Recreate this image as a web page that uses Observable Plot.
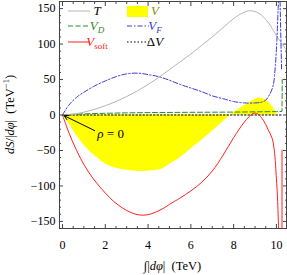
<!DOCTYPE html>
<html><head><meta charset="utf-8">
<script src="https://cdn.jsdelivr.net/npm/d3@7"></script>
<script src="https://cdn.jsdelivr.net/npm/@observablehq/plot@0.6"></script>
<style>body{margin:0;background:#fff}</style>
</head><body><div id="chart"></div>
<script>
// ---- data ----
const tX = [0,0.5,1,1.5,2,2.5,3,3.5,4,4.5,5,5.5,6,6.5,7,7.5,8,8.5,8.8,9.2,9.6,10,10.45];
const tY = [0,1,4,8,13,19,26,34,43,53,64,75,86,98,110,123,136,145,147,143,131,112,92];

const vfX = [0,0.3,0.7,1,1.5,2,2.5,3,3.5,4,4.5,5,5.5,6,6.5,7,7.5,8,8.5,9,9.3,9.5,9.7,9.85,9.95,10.02,10.08,10.12];
const vfY = [0,14,26,32,41,48,54,58,59,57,54,49,43,38,33,27,23,19,17,17,18,21,30,42,70,105,150,175];
const vfBranchX = [10.16,10.19,10.22,10.24];
const vfBranchY = [175,130,90,65];

const vdX = [0,0.5,1,2,3,4,6,8,10,10.26,10.27];
const vdY = [0,1,1.6,2.4,3,3.4,3.8,4.1,4.8,5,50];

const dvX = [0,10.3];
const dvY = [0,0];

const vsX = [0,0.2,0.45,0.84,1.23,1.6,2,2.4,2.8,3.2,3.6,4,4.35,4.75,5,5.5,6,6.5,7,7.5,8,8.5,8.9,9.1,9.4,9.6,9.8,9.9,10,10.05,10.1,10.12];
const vsY = [0,-17,-36,-61,-81,-96,-110,-122,-131,-137.5,-141,-140.5,-137,-131,-126,-117,-107,-95,-79,-57,-32,-10,2,2,-8,-20,-33,-50,-90,-117,-160,-175];
const vsBranchX = [10.26,10.26];
const vsBranchY = [-50,-175];

const vX = [0,0.3,0.6,0.84,1.23,1.62,2,2.4,2.8,3.3,3.7,4.2,4.66,5.2,5.6,6,6.5,7,7.5,7.85,8,8.5,9,9.2,9.5,9.7,9.9,10.05];
const vY = [0,-12,-26,-36,-50,-60,-69,-74,-77,-79,-79.5,-78.5,-76,-66,-58,-48,-36,-23,-10,0,3,13,22,24,21,16,8,0];

const xMajor = [0,2,4,6,8,10];
const yMajor = [-150,-100,-50,0,50,100,150];
const xMinor = d3.range(0,10.5,0.5).filter(v => v % 2 !== 0);
const yMinor = d3.range(-160,161,10).filter(v => v % 50 !== 0);

const note = {label:"ρ = 0", tx:2.25, ty:-26, x1:1.5, y1:-22, x2:0.08, y2:-1};

const zip = (xs, ys) => xs.map((x,i) => ({x, y: ys[i]}));
const fmt = d => d < 0 ? "\u2212" + (-d) : String(d);

const blue = "#3a3ad0", green = "#2e8b2e", red = "#ff2020", gray = "#b5b5b5";

const plot = Plot.plot({
  width: 287, height: 275,
  marginLeft: 59, marginRight: 1, marginTop: 1, marginBottom: 47,
  x: {domain: [-0.14, 10.47]},
  y: {domain: [-160, 160]},
  style: {fontFamily: "Liberation Serif", fontSize: "12px", color: "black", background: "white", overflow: "visible"},
  marks: [
    Plot.areaY(zip(vX, vY), {x:"x", y:"y", fill:"#ffff00", curve:"catmull-rom", clip:true}),
    Plot.line(zip(dvX, dvY), {x:"x", y:"y", stroke:"black", strokeWidth:1, strokeDasharray:"1.5,2", clip:true}),
    Plot.line(zip(vdX, vdY), {x:"x", y:"y", stroke:green, strokeWidth:1, strokeDasharray:"5,2.5", clip:true}),
    Plot.line(zip(tX, tY), {x:"x", y:"y", stroke:gray, strokeWidth:1, curve:"catmull-rom", clip:true}),
    Plot.line(zip(vfX, vfY), {x:"x", y:"y", stroke:blue, strokeWidth:1, strokeDasharray:"5,2,1.5,2", curve:"catmull-rom", clip:true}),
    Plot.line(zip(vfBranchX, vfBranchY), {x:"x", y:"y", stroke:blue, strokeWidth:1, strokeDasharray:"5,2,1.5,2", clip:true}),
    Plot.line(zip(vsX, vsY), {x:"x", y:"y", stroke:red, strokeWidth:1, curve:"catmull-rom", clip:true}),
    Plot.line(zip(vsBranchX, vsBranchY), {x:"x", y:"y", stroke:red, strokeWidth:2, strokeOpacity:0.5, clip:true}),
    Plot.arrow([note], {x1:"x1", y1:"y1", x2:"x2", y2:"y2", stroke:"black", strokeWidth:1, headLength:7}),
    Plot.text([note], {x:"tx", y:"ty", text:"label", fontSize:13, fill:"black"}),
    Plot.frame({stroke:"#444"}),
    Plot.axisY(yMajor, {anchor:"left", tickSize:0, tickPadding:4, tickFormat:fmt, label:null, fontSize:12}),
    Plot.axisY(yMajor, {anchor:"left", tickSize:-4, text:null, label:null, stroke:"#444"}),
    Plot.axisY(yMajor, {anchor:"right", tickSize:-4, text:null, label:null, stroke:"#444"}),
    Plot.axisY(yMinor, {anchor:"left", tickSize:-2, text:null, label:null, stroke:"#444"}),
    Plot.axisY(yMinor, {anchor:"right", tickSize:-2, text:null, label:null, stroke:"#444"}),
    Plot.axisX(xMajor, {anchor:"bottom", tickSize:0, tickPadding:12, tickFormat:fmt, label:null, fontSize:12}),
    Plot.axisX(xMajor, {anchor:"bottom", tickSize:-4, text:null, label:null, stroke:"#444"}),
    Plot.axisX(xMajor, {anchor:"top", tickSize:-4, text:null, label:null, stroke:"#444"}),
    Plot.axisX(xMinor, {anchor:"bottom", tickSize:-2, text:null, label:null, stroke:"#444"}),
    Plot.axisX(xMinor, {anchor:"top", tickSize:-2, text:null, label:null, stroke:"#444"})
  ]
});
document.getElementById("chart").append(plot);

const svg = d3.select(plot);
const fam = "Liberation Serif";

// rho label: italic rho
svg.selectAll("text").filter(function(){ return this.textContent === note.label; }).each(function(){
  const t = d3.select(this); t.text("");
  t.append("tspan").attr("font-style","italic").text("ρ");
  t.append("tspan").text(" = 0");
});

// axis labels
const sx = plot.scale("x"), sy = plot.scale("y");
const cx = (sx.range[0] + sx.range[1]) / 2, cy = (sy.range[0] + sy.range[1]) / 2;
const xl = svg.append("text").attr("font-family",fam).attr("font-size",12.5)
  .attr("x",cx).attr("y",270).attr("text-anchor","middle");
xl.append("tspan").text("∫|");
xl.append("tspan").attr("font-style","italic").text("dφ");
xl.append("tspan").text("|  (TeV)");

const yl = svg.append("text").attr("font-family",fam).attr("font-size",12.5)
  .attr("transform",`translate(14,${cy}) rotate(-90)`).attr("text-anchor","middle");
yl.append("tspan").attr("font-style","italic").text("dS");
yl.append("tspan").text("/|");
yl.append("tspan").attr("font-style","italic").text("dφ");
yl.append("tspan").text("|  (TeV");
yl.append("tspan").attr("font-size",8.5).attr("dy",-5).text("−1");
yl.append("tspan").attr("dy",5).text(")");

// legend
const legend = [
  {col:0,row:0,kind:"line",stroke:gray,dash:null,main:"T",sub:null,subItalic:false,color:"black"},
  {col:1,row:0,kind:"rect",stroke:"#ffff00",dash:null,main:"V",sub:null,subItalic:false,color:"#8a8a00"},
  {col:0,row:1,kind:"line",stroke:green,dash:"5,2.5",main:"V",sub:"D",subItalic:true,color:green},
  {col:1,row:1,kind:"line",stroke:blue,dash:"5,2,1.5,2",main:"V",sub:"F",subItalic:true,color:blue},
  {col:0,row:2,kind:"line",stroke:red,dash:null,main:"V",sub:"soft",subItalic:false,color:red},
  {col:1,row:2,kind:"line",stroke:"black",dash:"1.5,2",main:"ΔV",sub:null,subItalic:false,color:"black"}
];
const colSample = [68,127], colText = [97,155], rowY = [11,26,42];
const lg = svg.append("g").attr("font-family",fam).attr("font-size",13);
legend.forEach(d => {
  const x0 = colSample[d.col], y0 = rowY[d.row];
  if (d.kind === "rect") {
    lg.append("rect").attr("x",x0).attr("y",y0-5).attr("width",21).attr("height",11).attr("fill",d.stroke);
  } else {
    lg.append("line").attr("x1",x0).attr("x2",x0+22).attr("y1",y0).attr("y2",y0)
      .attr("stroke",d.stroke).attr("stroke-width",1).attr("stroke-dasharray",d.dash);
  }
  const t = lg.append("text").attr("x",colText[d.col]).attr("y",y0+4).attr("fill",d.color);
  if (d.main === "ΔV") { t.append("tspan").text("Δ"); t.append("tspan").attr("font-style","italic").text("V"); }
  else t.append("tspan").attr("font-style","italic").text(d.main);
  if (d.sub) t.append("tspan").attr("font-size",9).attr("dy",3).attr("font-style",d.subItalic?"italic":"normal").text(d.sub);
});
</script>
</body></html>
